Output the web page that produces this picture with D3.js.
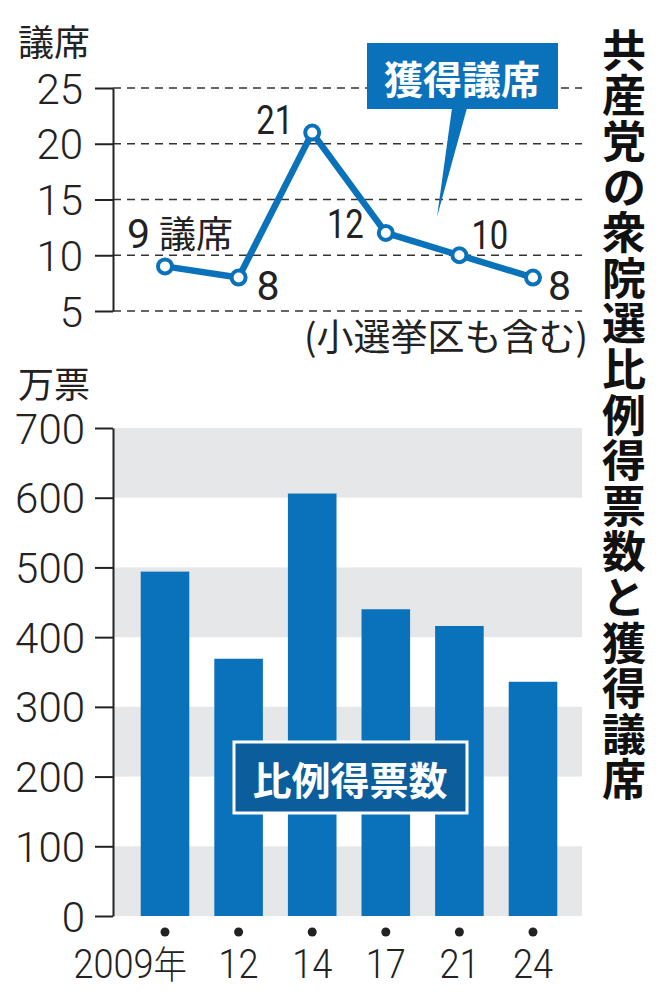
<!DOCTYPE html>
<html>
<head>
<meta charset="utf-8">
<script src="https://cdn.jsdelivr.net/npm/d3@7"></script>
<style>
  body { margin: 0; background: #fff; }
  svg { display: block; }
  .tick text { font-family: Roboto, "Liberation Sans", sans-serif; font-weight: 300; }
</style>
</head>
<body>
<svg></svg>
<script>
const width = 663;
const height = 1000;

// data
const years = ["2009年", "12", "14", "17", "21", "24"];
const seats = [9, 8, 21, 12, 10, 8];
const votes = [494, 369, 606, 440, 416, 336];
const seatTicks = [5, 10, 15, 20, 25];
const voteTicks = [0, 100, 200, 300, 400, 500, 600, 700];
const title = "共産党の衆院選比例得票数と獲得議席";

const blue = "#0a72ba";
const jp = '"Noto Sans CJK JP", sans-serif';

const svg = d3.select("svg")
  .attr("width", width)
  .attr("height", height);

svg.append("rect").attr("width", width).attr("height", height).attr("fill", "#fff");

// shared x (election)
const x = d3.scalePoint()
  .domain(years)
  .range([165, 533]);

const left = 113, right = 582;

// ---------- top: seats ----------
const ySeat = d3.scaleLinear().domain([5, 25]).range([311, 88]);

// dashed grid
svg.append("g")
  .selectAll("line")
  .data(seatTicks)
  .enter().append("line")
  .attr("x1", left).attr("x2", right)
  .attr("y1", d => ySeat(d)).attr("y2", d => ySeat(d))
  .attr("stroke", "#333")
  .attr("stroke-width", 1.4)
  .attr("stroke-dasharray", "8,6");

const gSeatAxis = svg.append("g")
  .attr("transform", `translate(${left},0)`)
  .call(d3.axisLeft(ySeat).tickValues(seatTicks).tickSize(18).tickSizeOuter(0).tickPadding(12));
gSeatAxis.selectAll("path, line").attr("stroke", "#222").attr("stroke-width", 2);
gSeatAxis.selectAll("text").attr("font-size", 42).attr("fill", "#222").attr("dy", "0.36em");

svg.append("text")
  .attr("x", 18).attr("y", 56)
  .attr("font-family", jp).attr("font-size", 36).attr("fill", "#222")
  .text("議席");

// callout
const callout = svg.append("g");
callout.append("path")
  .attr("d", "M452,108 L467,108 L437,217 Z")
  .attr("fill", blue);
callout.append("rect")
  .attr("x", 367).attr("y", 43).attr("width", 191).attr("height", 66)
  .attr("fill", blue);
callout.append("text")
  .attr("x", 462).attr("y", 77)
  .attr("text-anchor", "middle").attr("dominant-baseline", "central")
  .attr("font-family", jp).attr("font-weight", 700).attr("font-size", 39)
  .attr("fill", "#fff")
  .text("獲得議席");

// line
const line = d3.line()
  .x((d, i) => x(years[i]))
  .y(d => ySeat(d));

svg.append("path")
  .datum(seats)
  .attr("d", line)
  .attr("fill", "none")
  .attr("stroke", blue)
  .attr("stroke-width", 6.5)
  .attr("stroke-linejoin", "round");

svg.append("g")
  .selectAll("circle")
  .data(seats)
  .enter().append("circle")
  .attr("cx", (d, i) => x(years[i]))
  .attr("cy", d => ySeat(d))
  .attr("r", 7)
  .attr("fill", "#fff")
  .attr("stroke", blue)
  .attr("stroke-width", 4);

// value labels placement
const place = [
  { dx: -38, dy: -18, anchor: "start", sx: 1 },
  { dx: 18, dy: 22, anchor: "start", sx: 1 },
  { dx: -19, dy: 1, anchor: "end", sx: 0.8 },
  { dx: -22, dy: 5, anchor: "end", sx: 0.8 },
  { dx: 12, dy: -6, anchor: "start", sx: 0.8 },
  { dx: 15, dy: 22, anchor: "start", sx: 1 }
];

const labels = svg.append("g")
  .selectAll("text")
  .data(seats)
  .enter().append("text")
  .attr("transform", (d, i) => `translate(${x(years[i]) + place[i].dx},${ySeat(d) + place[i].dy}) scale(${place[i].sx},1)`)
  .attr("text-anchor", (d, i) => place[i].anchor)
  .attr("font-family", "Roboto, sans-serif")
  .attr("font-size", 41)
  .attr("fill", "#222");

labels.append("tspan").text(d => d);
labels.filter((d, i) => i === 0).append("tspan")
  .attr("dx", 9)
  .attr("font-family", jp)
  .attr("font-size", 37)
  .text("議席");

svg.append("text")
  .attr("x", 588).attr("y", 351)
  .attr("text-anchor", "end")
  .attr("font-family", jp).attr("font-size", 37).attr("fill", "#222")
  .text("(小選挙区も含む)");

// ---------- bottom: votes ----------
const yVote = d3.scaleLinear().domain([0, 700]).range([916, 428]);

// gray bands
svg.append("g")
  .selectAll("rect")
  .data(voteTicks.filter(d => d % 200 === 0 && d < 700))
  .enter().append("rect")
  .attr("x", left).attr("width", right - left)
  .attr("y", d => yVote(d + 100))
  .attr("height", d => yVote(d) - yVote(d + 100))
  .attr("fill", "#e6e7e8");

const barW = x.step() * 0.66;
svg.append("g")
  .selectAll("rect")
  .data(votes)
  .enter().append("rect")
  .attr("x", (d, i) => x(years[i]) - barW / 2)
  .attr("width", barW)
  .attr("y", d => yVote(d))
  .attr("height", d => yVote(0) - yVote(d))
  .attr("fill", blue);

const gVoteAxis = svg.append("g")
  .attr("transform", `translate(${left},0)`)
  .call(d3.axisLeft(yVote).tickValues(voteTicks).tickSize(18).tickSizeOuter(0).tickPadding(10));
gVoteAxis.selectAll("path, line").attr("stroke", "#222").attr("stroke-width", 2);
gVoteAxis.selectAll("text").attr("font-size", 42).attr("fill", "#222").attr("dy", "0.36em");

svg.append("text")
  .attr("x", 18).attr("y", 398)
  .attr("font-family", jp).attr("font-size", 36).attr("fill", "#222")
  .text("万票");

// legend box
const lg = svg.append("g");
lg.append("rect")
  .attr("x", 234).attr("y", 742).attr("width", 233).attr("height", 71)
  .attr("fill", "#0c5d9c")
  .attr("stroke", "#fff").attr("stroke-width", 3);
lg.append("text")
  .attr("x", 350).attr("y", 778)
  .attr("text-anchor", "middle").attr("dominant-baseline", "central")
  .attr("font-family", jp).attr("font-weight", 700).attr("font-size", 39)
  .attr("fill", "#fff")
  .text("比例得票数");

// x labels
svg.append("g")
  .selectAll("circle")
  .data(years)
  .enter().append("circle")
  .attr("cx", d => x(d))
  .attr("cy", 932)
  .attr("r", 4.5)
  .attr("fill", "#222");

svg.append("g")
  .selectAll("text")
  .data(years)
  .enter().append("text")
  .attr("transform", (d, i) => `translate(${i === 0 ? x(d) + 22 : x(d)},978) scale(0.88,1)`)
  .attr("text-anchor", (d, i) => i === 0 ? "end" : "middle")
  .attr("font-family", "Roboto, sans-serif")
  .attr("font-weight", 300)
  .attr("font-size", 41)
  .attr("fill", "#222")
  .each(function (d) {
    const t = d3.select(this);
    const m = d.match(/^(\d+)(.*)$/);
    t.append("tspan").text(m[1]);
    if (m[2]) t.append("tspan").attr("font-family", jp).attr("font-size", 38).text(m[2]);
  });

// vertical title, one text in vertical writing mode
svg.append("text")
  .attr("x", 624)
  .attr("y", 28)
  .style("writing-mode", "vertical-rl")
  .attr("font-family", jp)
  .attr("font-weight", 700)
  .attr("font-size", 44)
  .attr("letter-spacing", 1.6)
  .attr("fill", "#111")
  .text(title);
</script>
</body>
</html>
